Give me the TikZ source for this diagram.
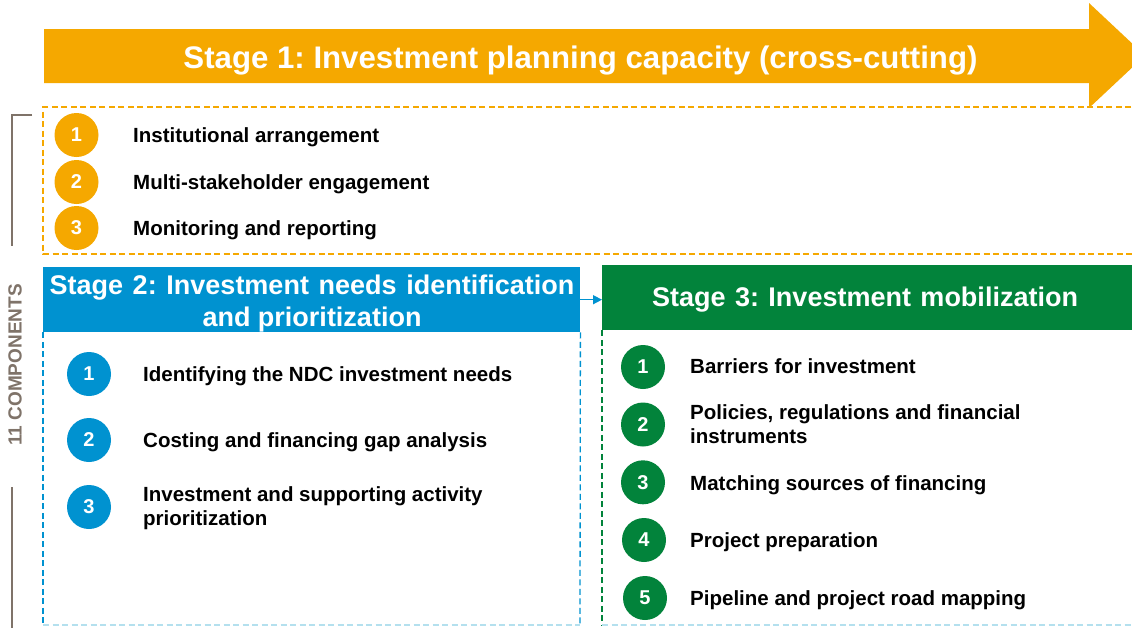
\documentclass[tikz,border=0pt]{standalone}
\usepackage{fontspec}
\setmainfont{Liberation Sans}
\usetikzlibrary{arrows.meta}
\frenchspacing

\definecolor{planorange}{RGB}{245,168,0}
\definecolor{needsblue}{RGB}{0,146,208}
\definecolor{mobgreen}{RGB}{2,131,59}
\definecolor{bracegray}{RGB}{127,115,105}
\definecolor{paleedge}{RGB}{180,224,238}

\tikzset{
  num/.style={circle, fill=#1, minimum size=44pt, inner sep=0pt, text=white,
              font=\fontsize{20}{20}\selectfont\bfseries},
  item/.style={anchor=base west, align=left, inner sep=0pt,
               font=\fontsize{20.5}{24}\selectfont\bfseries},
  headtitle/.style={anchor=base, inner sep=0pt, text=white, align=center,
               font=\fontsize{27}{32}\selectfont\bfseries},
  headbar/.style={fill=#1, inner sep=0pt, anchor=north west, minimum height=65pt},
  frameedge/.style={line width=1.3pt, dash pattern=on 6pt off 3.5pt},
  brace/.style={bracegray, line width=1.5pt},
}

\begin{document}
\begin{tikzpicture}[x=1pt,y=-1pt]
\useasboundingbox (0,0) rectangle (1132,627);
\clip (0,0) rectangle (1132,627);
\fill[white] (0,0) rectangle (1132,627);

% ---- Stage 1: cross-cutting capacity ----
\draw[frameedge, planorange] (1150,107) -- (43,107) -- (43,254) -- (1150,254);
\fill[planorange] (44,29) -- (1089,29) -- (1089,3) -- (1145,55.5)
  -- (1089,108) -- (1089,83) -- (44,83) -- cycle;
\node[anchor=base, inner sep=0pt, text=white,
      font=\fontsize{31.2}{36}\selectfont\bfseries] (s1title) at (580.5,68)
  {Stage 1: Investment planning capacity (cross-cutting)};

\node[num=planorange] (p1) at (76.5,135) {1};
\node[num=planorange] (p2) at (76.5,182) {2};
\node[num=planorange] (p3) at (76.5,228) {3};
\node[item] (p1t) at (133,142.5) {Institutional arrangement};
\node[item] (p2t) at (133,189) {Multi-stakeholder engagement};
\node[item] (p3t) at (133,235.5) {Monitoring and reporting};

% ---- component count bracket ----
\draw[brace] (32,115) -- (12,115) -- (12,246);
\draw[brace] (12,487) -- (12,640);
\node[rotate=90, inner sep=0pt, text=bracegray,
      font=\fontsize{19}{19}\selectfont\bfseries] (count) at (15,365) {11 COMPONENTS};

% ---- Stage 2: needs identification ----
\node[headbar=needsblue, minimum width=537pt] (s2head) at (43,267) {};
% multi-line nodes sit on the baseline of their last line
\node[headtitle] (s2title) at (312,326)
  {\makebox[525pt][s]{Stage 2: Investment needs identification}\\and prioritization};
\draw[frameedge, needsblue] (s2head.south west) -- (43,625);
\draw[frameedge, needsblue] (s2head.south east) -- (580,625);
\draw[frameedge, paleedge] (43,625) -- (580,625);

\node[num=needsblue] (n1) at (89,374) {1};
\node[num=needsblue] (n2) at (89,440) {2};
\node[num=needsblue] (n3) at (89,507) {3};
\node[item] (n1t) at (143,381) {Identifying the NDC investment needs};
\node[item] (n2t) at (143,447) {Costing and financing gap analysis};
\node[item] (n3t) at (143,525.5) {Investment and supporting activity\\prioritization};

% ---- Stage 3: mobilization ----
\node[headbar=mobgreen, minimum width=540pt] (s3head) at (602,265) {};
\node[headtitle] (s3title) at (865,306.5)
  {\makebox[426pt][s]{Stage 3: Investment mobilization}};
\draw[frameedge, mobgreen] (s3head.south west) -- (602,625);
\draw[frameedge, paleedge] (602,625) -- (1140,625);

\node[num=mobgreen] (m1) at (643,367) {1};
\node[num=mobgreen] (m2) at (643,424.5) {2};
\node[num=mobgreen] (m3) at (643,482.3) {3};
\node[num=mobgreen] (m4) at (644,540) {4};
\node[num=mobgreen] (m5) at (645,598) {5};
\node[item] (m1t) at (690,373.5) {Barriers for investment};
\node[item] (m2t) at (690,443.5) {Policies, regulations and financial\\instruments};
\node[item] (m3t) at (690,490) {Matching sources of financing};
\node[item] (m4t) at (690,547.5) {Project preparation};
\node[item] (m5t) at (690,605.7) {Pipeline and project road mapping};

% ---- stage 2 leads into stage 3 ----
\draw[needsblue, line width=1.5pt, -{Triangle[length=9pt,width=9pt]}]
  (s2head.east) -- (s2head.east -| s3head.west);
\end{tikzpicture}
\end{document}
